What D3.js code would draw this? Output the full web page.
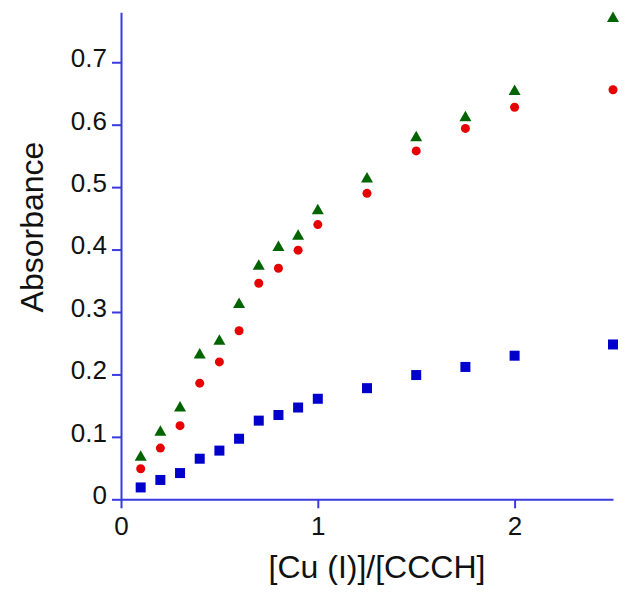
<!DOCTYPE html>
<html>
<head>
<meta charset="utf-8">
<script src="https://cdn.jsdelivr.net/npm/d3@7"></script>
<style>
  html, body { margin: 0; padding: 0; background: #fff; }
  svg { display: block; font-family: "Liberation Sans", Arial, sans-serif; }
</style>
</head>
<body>
<svg id="chart" width="630" height="597"></svg>
<script>
const ratios = [0.1, 0.2, 0.3, 0.4, 0.5, 0.6, 0.7, 0.8, 0.9, 1.0, 1.25, 1.5, 1.75, 2.0, 2.5];
const blueSquares = [0.019, 0.031, 0.042, 0.065, 0.078, 0.097, 0.126, 0.135, 0.147, 0.161, 0.178, 0.199, 0.212, 0.230, 0.248];
const redCircles = [0.049, 0.082, 0.118, 0.186, 0.220, 0.270, 0.346, 0.370, 0.399, 0.440, 0.490, 0.558, 0.594, 0.628, 0.656];
const greenTriangles = [0.070, 0.110, 0.149, 0.234, 0.256, 0.315, 0.376, 0.406, 0.424, 0.465, 0.516, 0.582, 0.614, 0.656, 0.773];
const xTicks = [0, 1, 2];
const yTicks = [0, 0.1, 0.2, 0.3, 0.4, 0.5, 0.6, 0.7];
const xTitle = "[Cu (I)]/[CCCH]";
const yTitle = "Absorbance";

const margin = {left: 121, top: 12.3, right: 17, bottom: 97.7};
const W = 630, H = 597;
const svg = d3.select("#chart");
const x = d3.scaleLinear().domain([0, 2.5]).range([margin.left, W - margin.right]);
const y = d3.scaleLinear().domain([0, 0.78]).range([H - margin.bottom, margin.top]);
const axisColor = "#3a3ae0";

// axes
const xAxis = svg.append("g")
  .attr("transform", `translate(0,${y(0)})`)
  .call(d3.axisBottom(x).tickValues(xTicks).tickFormat(d3.format("d")).tickSize(9).tickSizeOuter(0).tickPadding(8));
const yAxis = svg.append("g")
  .attr("transform", `translate(${x(0)},0)`)
  .call(d3.axisLeft(y).tickValues(yTicks).tickFormat(d => d === 0 ? "0" : d3.format(".1f")(d)).tickSize(9).tickSizeOuter(0).tickPadding(5));

[xAxis, yAxis].forEach(g => {
  g.select(".domain").attr("stroke", axisColor).attr("stroke-width", 2);
  g.selectAll(".tick line").attr("stroke", axisColor).attr("stroke-width", 2);
  g.selectAll(".tick text").attr("fill", "#111").attr("font-size", 26)
    .attr("font-family", "'Liberation Sans', Arial, sans-serif");
});
xAxis.selectAll(".tick text").attr("dy", "0.71em").attr("y", 17);
yAxis.selectAll(".tick text").attr("dy", "0.32em").attr("y", -4);

// titles
svg.append("text")
  .attr("x", 377).attr("y", 578)
  .attr("text-anchor", "middle")
  .attr("font-size", 32)
  .attr("fill", "#111")
  .text(xTitle);
svg.append("text")
  .attr("transform", `translate(43,227) rotate(-90)`)
  .attr("text-anchor", "middle")
  .attr("font-size", 32)
  .attr("fill", "#111")
  .text(yTitle);

// markers
const sq = 10;
svg.append("g").selectAll("rect")
  .data(ratios.map((r, i) => [r, blueSquares[i]]))
  .join("rect")
  .attr("x", d => x(d[0]) - sq / 2)
  .attr("y", d => y(d[1]) - sq / 2)
  .attr("width", sq).attr("height", sq)
  .attr("fill", "#0000cc");

svg.append("g").selectAll("circle")
  .data(ratios.map((r, i) => [r, redCircles[i]]))
  .join("circle")
  .attr("cx", d => x(d[0]))
  .attr("cy", d => y(d[1]))
  .attr("r", 4.5)
  .attr("fill", "#e60000");

const tw = 12, th = 10.5;
svg.append("g").selectAll("path")
  .data(ratios.map((r, i) => [r, greenTriangles[i]]))
  .join("path")
  .attr("d", d => {
    const cx = x(d[0]), cy = y(d[1]);
    return `M${cx},${cy - th / 2}L${cx + tw / 2},${cy + th / 2}L${cx - tw / 2},${cy + th / 2}Z`;
  })
  .attr("fill", "#006400");
</script>
</body>
</html>
